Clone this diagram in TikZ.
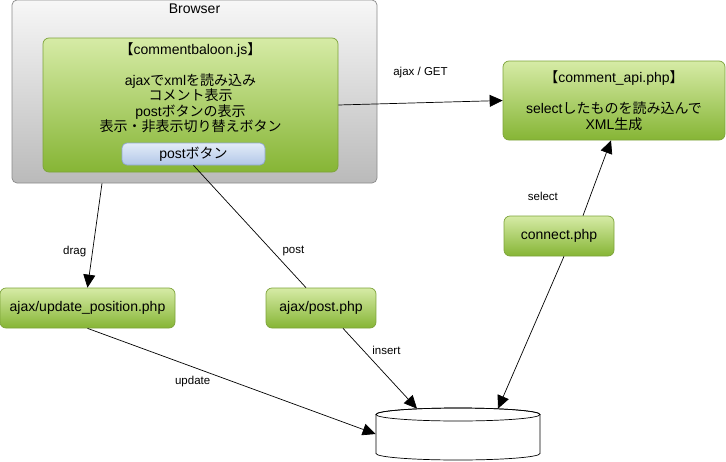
\documentclass[tikz,border=0pt]{standalone}
\usepackage{fontspec}
\setmainfont{Liberation Sans}
\newfontfamily\jp{Noto Sans CJK JP}
\usetikzlibrary{arrows.meta}

\definecolor{greentop}{HTML}{D6EBA6}
\definecolor{greenbot}{HTML}{86B535}
\definecolor{greenline}{HTML}{7DA33A}
\definecolor{graytop}{HTML}{F7F7F7}
\definecolor{graybot}{HTML}{BABABA}
\definecolor{grayline}{HTML}{8A8A8A}
\definecolor{bluetop}{HTML}{E3ECF8}
\definecolor{bluebot}{HTML}{B2C7E8}
\definecolor{blueline}{HTML}{8FA6D1}

\tikzset{
  phpbox/.style={draw=greenline, top color=greentop, bottom color=greenbot,
    rounded corners=6pt, align=center, inner sep=0pt},
  flow/.style={-{Triangle[length=13pt,width=12pt]}},
  edgelabel/.style={font=\fontsize{11.5}{13}\selectfont, inner sep=1pt}
}

\begin{document}
\begin{tikzpicture}[x=1pt, y=-1pt, line width=0.7pt,
    font=\fontsize{14}{15.5}\selectfont]
    \useasboundingbox (0,0) rectangle (726,461);

    % Browser with the script box inside
    \node[draw=grayline, top color=graytop, bottom color=graybot,
          rounded corners=5pt, minimum width=365pt, minimum height=183pt]
          (browser) at (194.5,91.5) {};
    \node[anchor=north, inner sep=0pt] (browsertitle) at (194.5,4) {Browser};
    \node[phpbox, minimum width=295pt, minimum height=134pt] (inner) at (190.5,105) {};
    \node[anchor=north, align=center, inner sep=0pt] (jsinfo) at (190.5,42) {%
        {\jp 【}commentbaloon.js{\jp 】}\\[15.5pt]
        ajax{\jp で}xml{\jp を読み込み}\\
        {\jp コメント表示}\\
        post{\jp ボタンの表示}\\
        {\jp 表示・非表示切り替えボタン}};
    \node[draw=blueline, top color=bluetop, bottom color=bluebot,
          rounded corners=5pt, minimum width=143pt, minimum height=22pt,
          inner sep=0pt] (postbtn) at (193.5,154) {post{\jp ボタン}};

    % PHP side
    \node[phpbox, minimum width=222pt, minimum height=79pt] (api) at (614,100.5) {%
        {\jp 【}comment\_api.php{\jp 】}\\[15.5pt]
        select{\jp したものを読み込んで}\\
        XML{\jp 生成}};
    \node[phpbox, minimum width=110pt, minimum height=40pt] (connect) at (559,236) {connect.php};
    \node[phpbox, minimum width=175pt, minimum height=40pt] (update) at (87.5,308) {ajax/update\_position.php};
    \node[phpbox, minimum width=110pt, minimum height=40pt] (postphp) at (321,308) {ajax/post.php};

    % Database: body 376..540 x 408..460, ellipse radii 82 and 6.5
    \node[minimum width=164pt, minimum height=52pt, inner sep=0pt] (db) at (458,434) {};
    \draw[fill=white] (376,414.5) -- (376,453.5)
        arc[start angle=180, end angle=0, x radius=82, y radius=6.5]
        -- (540,414.5)
        arc[start angle=0, end angle=-180, x radius=82, y radius=6.5] -- cycle;
    \draw (458,414.5) ellipse[x radius=82, y radius=6.5];

    % Connectors
    \draw[flow] (inner.east) -- (api.west)
        node[edgelabel, midway, above=24pt] {ajax / GET};
    \draw[flow] ([xshift=-92.5pt]browser.south) -- (update.north)
        node[edgelabel, pos=0.65, left=5pt] {drag};
    \draw (postbtn.south) -- ([xshift=-15pt]postphp.north)
        node[edgelabel, pos=0.7, right=9pt] {post};
    \draw[flow] (update.south) -- (db.west)
        node[edgelabel, pos=0.365, below=8pt] {update};
    \draw[flow] ([xshift=22pt]postphp.south) -- ([xshift=-41pt, yshift=-1pt]db.north)
        node[edgelabel, pos=0.27, right=8pt] {insert};
    \draw[flow] ([xshift=24pt]connect.north) -- ([xshift=-3pt]api.south)
        node[edgelabel, pos=0.26, left=31pt] {select};
    \draw[flow] ([xshift=5pt]connect.south) -- ([xshift=40pt, yshift=-1pt]db.north);
\end{tikzpicture}
\end{document}
